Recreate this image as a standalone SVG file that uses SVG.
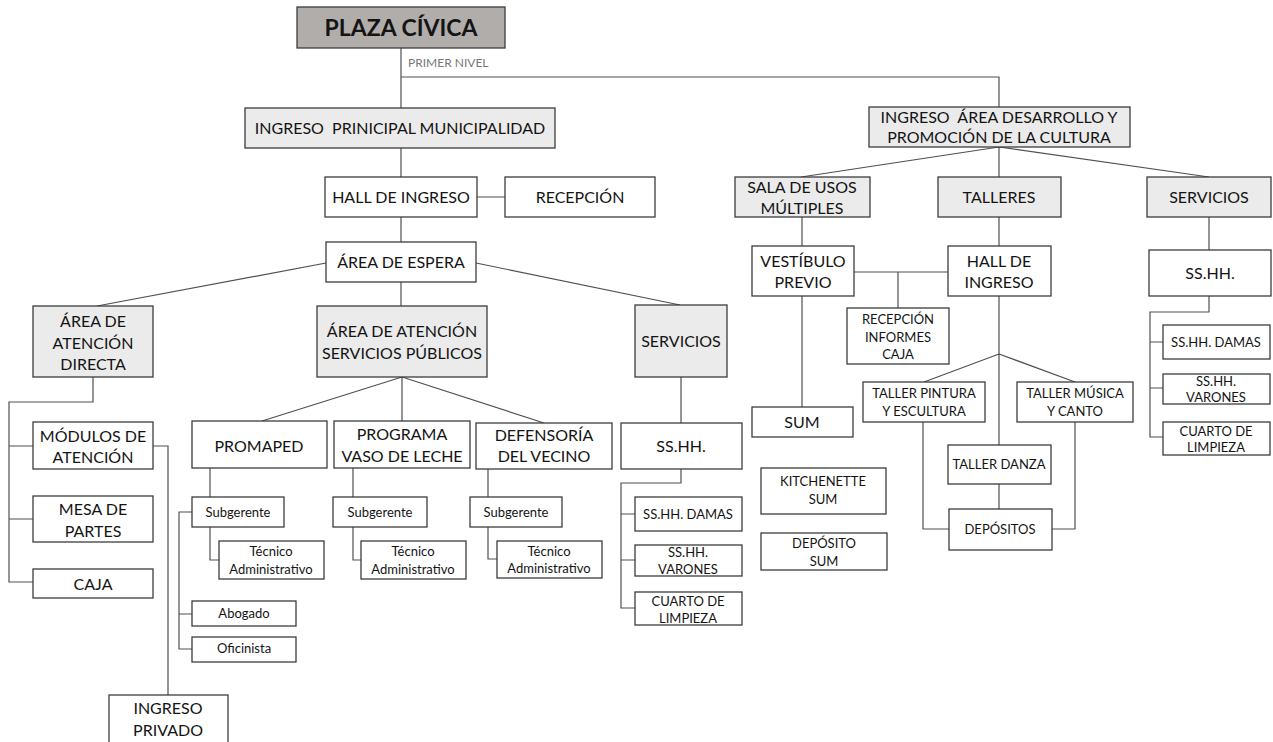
<svg xmlns="http://www.w3.org/2000/svg" width="1273" height="742" viewBox="0 0 1273 742">
<style>
.b{fill:#fff;stroke:#3c3c3c;stroke-width:1.3}
.g{fill:#ebebeb}
.p{fill:#b1adab}
.c path{fill:none;stroke:#505050;stroke-width:1.2}
text{font-family:Lato,"Open Sans","Liberation Sans",sans-serif;fill:#141414;text-anchor:middle;white-space:pre}
.L{font-size:16px}
.S{font-size:13px}
.T{font-size:23px;font-weight:bold}
.n{font-size:12px;fill:#777;text-anchor:start}
</style>
<rect width="1273" height="742" fill="#fff"/>
<g class="c" id="connectors">
<path d="M401,48V108M401,77H999V107"/>
<path d="M401,148V177M477,197H505M401,217V242"/>
<path d="M326,263L97,306M476,263L680,305M401,282V306"/>
<path d="M93,377V402H9V582H33M9,446H33M9,519H33"/>
<path d="M153,446H168V695"/>
<path d="M402,377L262,421M402,377V421M402,377L544,423"/>
<path d="M681,377V423"/>
<path d="M210,468V497M210,527V560H219M192,512H179V649H192M179,614H192"/>
<path d="M353,468V497M353,527V560H361"/>
<path d="M488,469V497M488,527V559H497"/>
<path d="M681,469V483H621V608H635M621,514H635M621,560H635"/>
<path d="M999,147L801,177M999,147V177M999,147L1209,177"/>
<path d="M802,217V246M999,217V246"/>
<path d="M854,272H948M898,272V308"/>
<path d="M802,296V407"/>
<path d="M999,296V445M999,354L924,382M999,354L1075,382"/>
<path d="M999,484V509"/>
<path d="M923,422V529H949M1075,422V529H1052"/>
<path d="M1209,217V250M1209,296V312H1150V437H1163M1150,342H1163M1150,388H1163"/>
</g>
<g id="plaza"><rect class="b p" x="297" y="7" width="208" height="41"/><text class="T" x="401" y="36">PLAZA CÍVICA</text></g>
<g id="primer-nivel"><text class="n" x="408" y="67">PRIMER NIVEL</text></g>
<g id="ingreso-principal"><rect class="b g" x="245" y="108" width="310" height="40"/><text class="L" x="400" y="134" xml:space="preserve">INGRESO  PRINICIPAL MUNICIPALIDAD</text></g>
<g id="hall-ingreso"><rect class="b" x="325" y="177" width="152" height="40"/><text class="L" x="401" y="203">HALL DE INGRESO</text></g>
<g id="recepcion"><rect class="b" x="505" y="177" width="150" height="40"/><text class="L" x="580" y="203">RECEPCIÓN</text></g>
<g id="area-espera"><rect class="b" x="326" y="242" width="150" height="40"/><text class="L" x="401" y="268">ÁREA DE ESPERA</text></g>
<g id="atencion-directa"><rect class="b g" x="33" y="306" width="120" height="71"/><text class="L" x="93" y="327">ÁREA DE</text><text class="L" x="93" y="349">ATENCIÓN</text><text class="L" x="93" y="370">DIRECTA</text></g>
<g id="servicios-publicos"><rect class="b g" x="317" y="306" width="170" height="71"/><text class="L" x="402" y="337">ÁREA DE ATENCIÓN</text><text class="L" x="402" y="359">SERVICIOS PÚBLICOS</text></g>
<g id="servicios-1"><rect class="b g" x="635" y="305" width="92" height="72"/><text class="L" x="681" y="347">SERVICIOS</text></g>
<g id="modulos"><rect class="b" x="33" y="422" width="120" height="47"/><text class="L" x="93" y="442">MÓDULOS DE</text><text class="L" x="93" y="463">ATENCIÓN</text></g>
<g id="mesa-partes"><rect class="b" x="33" y="496" width="120" height="46"/><text class="L" x="93" y="515">MESA DE</text><text class="L" x="93" y="537">PARTES</text></g>
<g id="caja"><rect class="b" x="33" y="569" width="120" height="29"/><text class="L" x="93" y="590">CAJA</text></g>
<g id="ingreso-privado"><rect class="b" x="109" y="695" width="119" height="70"/><text class="L" x="168" y="714">INGRESO</text><text class="L" x="168" y="736">PRIVADO</text></g>
<g id="promaped"><rect class="b" x="192" y="421" width="135" height="47"/><text class="L" x="259" y="452">PROMAPED</text></g>
<g id="vaso-leche"><rect class="b" x="334" y="421" width="136" height="47"/><text class="L" x="402" y="440">PROGRAMA</text><text class="L" x="402" y="462">VASO DE LECHE</text></g>
<g id="defensoria"><rect class="b" x="476" y="423" width="136" height="46"/><text class="L" x="544" y="441">DEFENSORÍA</text><text class="L" x="544" y="462">DEL VECINO</text></g>
<g id="sshh-1"><rect class="b" x="621" y="423" width="121" height="46"/><text class="L" x="681" y="452">SS.HH.</text></g>
<g id="subgerente-1"><rect class="b" x="192" y="497" width="92" height="30"/><text class="S" x="238" y="517">Subgerente</text></g>
<g id="tecnico-1"><rect class="b" x="219" y="541" width="105" height="38"/><text class="S" x="271" y="556">Técnico</text><text class="S" x="271" y="574">Administrativo</text></g>
<g id="abogado"><rect class="b" x="192" y="601" width="104" height="25"/><text class="S" x="244" y="618">Abogado</text></g>
<g id="oficinista"><rect class="b" x="192" y="637" width="104" height="25"/><text class="S" x="244" y="653">Oficinista</text></g>
<g id="subgerente-2"><rect class="b" x="333" y="497" width="94" height="30"/><text class="S" x="380" y="517">Subgerente</text></g>
<g id="tecnico-2"><rect class="b" x="361" y="541" width="105" height="38"/><text class="S" x="413" y="556">Técnico</text><text class="S" x="413" y="574">Administrativo</text></g>
<g id="subgerente-3"><rect class="b" x="470" y="497" width="92" height="30"/><text class="S" x="516" y="517">Subgerente</text></g>
<g id="tecnico-3"><rect class="b" x="497" y="541" width="105" height="37"/><text class="S" x="549" y="556">Técnico</text><text class="S" x="549" y="573">Administrativo</text></g>
<g id="damas-1"><rect class="b" x="635" y="497" width="107" height="34"/><text class="S" x="688" y="519">SS.HH. DAMAS</text></g>
<g id="varones-1"><rect class="b" x="635" y="545" width="107" height="31"/><text class="S" x="688" y="557">SS.HH.</text><text class="S" x="688" y="574">VARONES</text></g>
<g id="limpieza-1"><rect class="b" x="635" y="592" width="107" height="33"/><text class="S" x="688" y="606">CUARTO DE</text><text class="S" x="688" y="623">LIMPIEZA</text></g>
<g id="ingreso-cultura"><rect class="b g" x="869" y="107" width="261" height="40"/><text class="L" x="999" y="123" xml:space="preserve">INGRESO  ÁREA DESARROLLO Y</text><text class="L" x="999" y="143">PROMOCIÓN DE LA CULTURA</text></g>
<g id="sala-usos"><rect class="b g" x="735" y="177" width="135" height="40"/><text class="L" x="802" y="193">SALA DE USOS</text><text class="L" x="802" y="214">MÚLTIPLES</text></g>
<g id="talleres"><rect class="b g" x="938" y="177" width="123" height="40"/><text class="L" x="999" y="203">TALLERES</text></g>
<g id="servicios-2"><rect class="b g" x="1147" y="177" width="124" height="40"/><text class="L" x="1209" y="203">SERVICIOS</text></g>
<g id="vestibulo"><rect class="b" x="752" y="246" width="102" height="50"/><text class="L" x="803" y="267">VESTÍBULO</text><text class="L" x="803" y="288">PREVIO</text></g>
<g id="hall-ingreso-2"><rect class="b" x="948" y="246" width="103" height="50"/><text class="L" x="999" y="267">HALL DE</text><text class="L" x="999" y="288">INGRESO</text></g>
<g id="recepcion-informes"><rect class="b" x="847" y="308" width="102" height="56"/><text class="S" x="898" y="324">RECEPCIÓN</text><text class="S" x="898" y="342">INFORMES</text><text class="S" x="898" y="359">CAJA</text></g>
<g id="sum"><rect class="b" x="752" y="407" width="101" height="30"/><text class="L" x="802" y="428">SUM</text></g>
<g id="kitchenette"><rect class="b" x="761" y="468" width="125" height="46"/><text class="S" x="823" y="486">KITCHENETTE</text><text class="S" x="823" y="504">SUM</text></g>
<g id="deposito-sum"><rect class="b" x="761" y="533" width="126" height="37"/><text class="S" x="824" y="548">DEPÓSITO</text><text class="S" x="824" y="566">SUM</text></g>
<g id="taller-pintura"><rect class="b" x="863" y="382" width="122" height="40"/><text class="S" x="924" y="398">TALLER PINTURA</text><text class="S" x="924" y="416">Y ESCULTURA</text></g>
<g id="taller-musica"><rect class="b" x="1017" y="382" width="116" height="40"/><text class="S" x="1075" y="398">TALLER MÚSICA</text><text class="S" x="1075" y="416">Y CANTO</text></g>
<g id="taller-danza"><rect class="b" x="948" y="445" width="103" height="39"/><text class="S" x="999" y="469">TALLER DANZA</text></g>
<g id="depositos"><rect class="b" x="949" y="509" width="103" height="41"/><text class="S" x="1000" y="534">DEPÓSITOS</text></g>
<g id="sshh-2"><rect class="b" x="1149" y="250" width="122" height="46"/><text class="L" x="1210" y="279">SS.HH.</text></g>
<g id="damas-2"><rect class="b" x="1163" y="325" width="107" height="34"/><text class="S" x="1216" y="347">SS.HH. DAMAS</text></g>
<g id="varones-2"><rect class="b" x="1163" y="374" width="107" height="30"/><text class="S" x="1216" y="386">SS.HH.</text><text class="S" x="1216" y="402">VARONES</text></g>
<g id="limpieza-2"><rect class="b" x="1163" y="422" width="107" height="33"/><text class="S" x="1216" y="436">CUARTO DE</text><text class="S" x="1216" y="452">LIMPIEZA</text></g>
</svg>
